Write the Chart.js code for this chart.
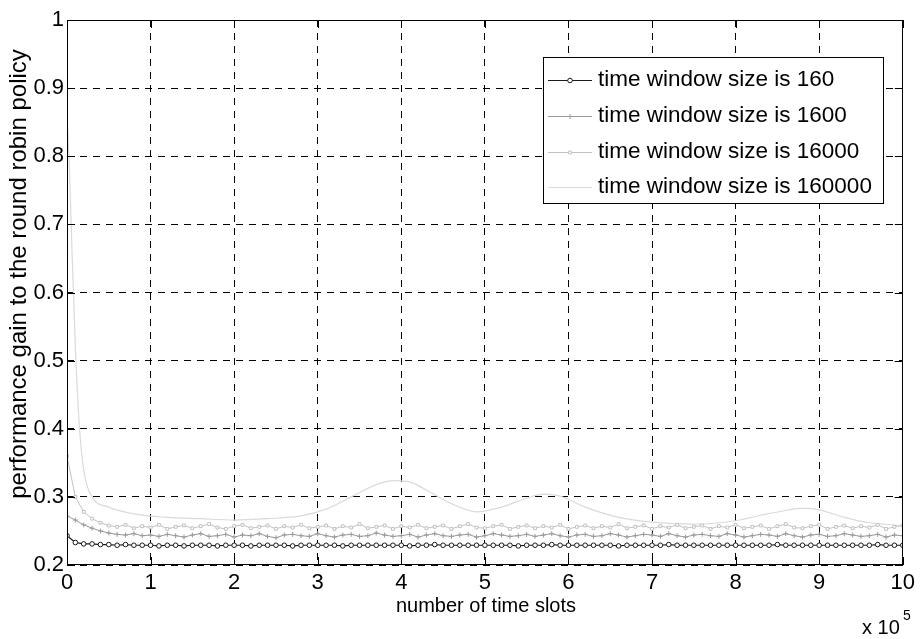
<!DOCTYPE html>
<html>
<head>
<meta charset="utf-8">
<script src="https://cdn.jsdelivr.net/npm/chart.js@4.4.0/dist/chart.umd.min.js"></script>
<style>
  body { margin: 0; background: #fff; }
  canvas { display: block; }
</style>
</head>
<body>
<canvas id="gainChart" width="920" height="639"></canvas>
<script>
// x values are in units of 10^5 time slots
const xTicks = [0, 1, 2, 3, 4, 5, 6, 7, 8, 9, 10];
const yTicks = [0.2, 0.3, 0.4, 0.5, 0.6, 0.7, 0.8, 0.9, 1];

const seriesLabels = [
    'time window size is 160',
    'time window size is 1600',
    'time window size is 16000',
    'time window size is 160000'
];

const xSlots = [
    0, 0.1, 0.2, 0.3, 0.4, 0.5, 0.6, 0.7, 0.8, 0.9,
    1, 1.1, 1.2, 1.3, 1.4, 1.5, 1.6, 1.7, 1.8, 1.9,
    2, 2.1, 2.2, 2.3, 2.4, 2.5, 2.6, 2.7, 2.8, 2.9,
    3, 3.1, 3.2, 3.3, 3.4, 3.5, 3.6, 3.7, 3.8, 3.9,
    4, 4.1, 4.2, 4.3, 4.4, 4.5, 4.6, 4.7, 4.8, 4.9,
    5, 5.1, 5.2, 5.3, 5.4, 5.5, 5.6, 5.7, 5.8, 5.9,
    6, 6.1, 6.2, 6.3, 6.4, 6.5, 6.6, 6.7, 6.8, 6.9,
    7, 7.1, 7.2, 7.3, 7.4, 7.5, 7.6, 7.7, 7.8, 7.9,
    8, 8.1, 8.2, 8.3, 8.4, 8.5, 8.6, 8.7, 8.8, 8.9,
    9, 9.1, 9.2, 9.3, 9.4, 9.5, 9.6, 9.7, 9.8, 9.9,
    10
];

const gain160 = [
    0.243, 0.233, 0.231, 0.231, 0.230, 0.230, 0.229, 0.230, 0.229, 0.229,
    0.229, 0.228, 0.229, 0.229, 0.228, 0.229, 0.229, 0.229, 0.228, 0.229,
    0.229, 0.229, 0.228, 0.229, 0.229, 0.229, 0.229, 0.228, 0.229, 0.229,
    0.229, 0.229, 0.229, 0.228, 0.229, 0.229, 0.229, 0.229, 0.229, 0.229,
    0.229, 0.228, 0.229, 0.229, 0.230, 0.229, 0.229, 0.229, 0.229, 0.229,
    0.229, 0.229, 0.229, 0.229, 0.228, 0.229, 0.229, 0.229, 0.230, 0.229,
    0.229, 0.229, 0.229, 0.229, 0.229, 0.229, 0.228, 0.229, 0.229, 0.229,
    0.229, 0.229, 0.230, 0.229, 0.229, 0.229, 0.229, 0.229, 0.229, 0.229,
    0.229, 0.229, 0.229, 0.229, 0.229, 0.230, 0.229, 0.229, 0.229, 0.229,
    0.229, 0.229, 0.229, 0.229, 0.229, 0.229, 0.229, 0.230, 0.229, 0.229,
    0.229
];

const gain1600 = [
    0.272, 0.266, 0.259, 0.254, 0.250, 0.247, 0.245, 0.244, 0.246, 0.243,
    0.244, 0.242, 0.245, 0.243, 0.241, 0.244, 0.246, 0.242, 0.243, 0.245,
    0.241, 0.244, 0.243, 0.246, 0.242, 0.240, 0.244, 0.245, 0.243, 0.242,
    0.246, 0.243, 0.241, 0.244, 0.245, 0.242, 0.243, 0.247, 0.244, 0.242,
    0.243, 0.245, 0.241, 0.244, 0.246, 0.243, 0.242, 0.244, 0.245, 0.241,
    0.243, 0.246, 0.244, 0.242, 0.243, 0.245, 0.242, 0.244, 0.246, 0.243,
    0.241, 0.244, 0.245, 0.242, 0.243, 0.246, 0.244, 0.241, 0.243, 0.245,
    0.244, 0.242, 0.246, 0.243, 0.241, 0.244, 0.245, 0.243, 0.242, 0.246,
    0.244, 0.241, 0.243, 0.245, 0.244, 0.242, 0.246, 0.243, 0.241, 0.244,
    0.245, 0.242, 0.243, 0.246, 0.244, 0.242, 0.243, 0.245, 0.241, 0.244,
    0.243
];

const gain16000 = [
    0.360, 0.300, 0.278, 0.268, 0.262, 0.258, 0.256, 0.259, 0.254, 0.257,
    0.255, 0.259, 0.253, 0.256, 0.258, 0.254, 0.257, 0.260, 0.255, 0.253,
    0.257, 0.259, 0.254, 0.256, 0.258, 0.253, 0.257, 0.255, 0.259, 0.254,
    0.256, 0.258, 0.253, 0.257, 0.255, 0.260, 0.254, 0.256, 0.258, 0.253,
    0.257, 0.255, 0.259, 0.254, 0.256, 0.258, 0.253, 0.257, 0.260, 0.255,
    0.254, 0.257, 0.259, 0.253, 0.256, 0.258, 0.254, 0.257, 0.255, 0.259,
    0.253, 0.256, 0.258, 0.254, 0.257, 0.255, 0.260, 0.254, 0.256, 0.258,
    0.253, 0.257, 0.255, 0.259, 0.254, 0.256, 0.258, 0.253, 0.257, 0.255,
    0.259, 0.254, 0.256, 0.258, 0.253, 0.257, 0.260, 0.255, 0.254, 0.257,
    0.259, 0.253, 0.256, 0.258, 0.254, 0.257, 0.255, 0.259, 0.253, 0.256,
    0.258
];

const xSlots160000 = [
    0, 0.03, 0.06, 0.1, 0.15, 0.2, 0.3, 0.5, 0.8, 1.2,
    1.6, 2.0, 2.4, 2.8, 3.1, 3.4, 3.7, 3.9, 4.1, 4.3,
    4.6, 4.9, 5.2, 5.5, 5.7, 5.9, 6.2, 6.6, 7.0, 7.5,
    8.0, 8.3, 8.6, 8.8, 9.0, 9.3, 9.6, 10
];
const gain160000 = [
    0.86, 0.78, 0.66, 0.52, 0.40, 0.34, 0.30, 0.285, 0.275, 0.27,
    0.268, 0.266, 0.268, 0.272, 0.282, 0.30, 0.318, 0.324, 0.322, 0.31,
    0.29, 0.278, 0.285, 0.298, 0.304, 0.301, 0.285, 0.27, 0.263, 0.26,
    0.265, 0.273, 0.28, 0.283, 0.281, 0.27, 0.262, 0.258
];

const FONT = "'Liberation Sans', Arial, sans-serif";

function toPoints(xs, ys) {
    return xs.map((x, i) => ({ x: x, y: ys[i] }));
}

// Frame, inner tick marks, legend box and axis titles (MATLAB look)
const matlabFrame = {
    id: 'matlabFrame',
    afterDatasetsDraw(chart) {
        const ctx = chart.ctx;
        const a = chart.chartArea;
        const xs = chart.scales.x;
        const ys = chart.scales.y;
        ctx.save();
        ctx.strokeStyle = '#000';
        ctx.lineWidth = 1;
        ctx.setLineDash([]);
        ctx.beginPath();
        xTicks.forEach(v => {
            const px = Math.round(xs.getPixelForValue(v)) + 0.5;
            ctx.moveTo(px, a.bottom); ctx.lineTo(px, a.bottom - 8);
            ctx.moveTo(px, a.top); ctx.lineTo(px, a.top + 8);
        });
        yTicks.forEach(v => {
            const py = Math.round(ys.getPixelForValue(v)) + 0.5;
            ctx.moveTo(a.left, py); ctx.lineTo(a.left + 8, py);
            ctx.moveTo(a.right, py); ctx.lineTo(a.right - 8, py);
        });
        ctx.stroke();
        ctx.strokeRect(Math.round(a.left) + 0.5, Math.round(a.top) + 0.5,
                       Math.round(a.width) - 1, Math.round(a.height) - 1);

        // legend
        const box = { x: 543.5, y: 57.5, w: 340, h: 146 };
        ctx.fillStyle = '#fff';
        ctx.fillRect(box.x, box.y, box.w, box.h);
        ctx.strokeRect(box.x, box.y, box.w, box.h);
        const rowY = [80, 116, 152, 187];
        ctx.font = '22.5px ' + FONT;
        ctx.textBaseline = 'middle';
        ctx.textAlign = 'left';
        chart.data.datasets.forEach((ds, i) => {
            const y = rowY[i];
            ctx.strokeStyle = ds.borderColor;
            ctx.lineWidth = 1;
            ctx.beginPath();
            ctx.moveTo(548, y + 0.5);
            ctx.lineTo(592, y + 0.5);
            ctx.stroke();
            if (ds.pointRadius > 0) {
                ctx.fillStyle = ds.pointBackgroundColor || '#fff';
                ctx.strokeStyle = ds.pointBorderColor || ds.borderColor;
                Chart.helpers.drawPoint(ctx, {
                    pointStyle: ds.pointStyle,
                    radius: ds.pointRadius,
                    rotation: 0,
                    borderWidth: 1
                }, 570, y + 0.5);
            }
            ctx.fillStyle = '#000';
            ctx.fillText(ds.label, 598, y);
        });
        ctx.restore();
    },
    afterDraw(chart) {
        const ctx = chart.ctx;
        ctx.save();
        ctx.fillStyle = '#000';
        ctx.textBaseline = 'middle';
        ctx.textAlign = 'center';
        ctx.font = '20px ' + FONT;
        ctx.fillText('number of time slots', 486, 606);

        ctx.textAlign = 'left';
        ctx.fillText('x 10', 862, 628);
        ctx.font = '14px ' + FONT;
        ctx.fillText('5', 903, 616);

        ctx.translate(19, 274);
        ctx.rotate(-Math.PI / 2);
        ctx.textAlign = 'center';
        ctx.font = '24px ' + FONT;
        ctx.fillText('performance gain to the round robin policy', 0, 0);
        ctx.restore();
    }
};

const ctx = document.getElementById('gainChart').getContext('2d');

new Chart(ctx, {
    type: 'line',
    data: {
        datasets: [
            {
                label: seriesLabels[0],
                data: toPoints(xSlots, gain160),
                borderColor: '#1a1a1a',
                borderWidth: 1.2,
                pointStyle: 'circle',
                pointRadius: 2.3,
                pointBorderWidth: 1,
                pointBorderColor: '#1a1a1a',
                pointBackgroundColor: '#fff',
                order: 0
            },
            {
                label: seriesLabels[1],
                data: toPoints(xSlots, gain1600),
                borderColor: '#9a9a9a',
                borderWidth: 1,
                pointStyle: 'cross',
                pointRadius: 2.5,
                pointBorderColor: '#9a9a9a',
                pointBackgroundColor: '#9a9a9a',
                order: 1
            },
            {
                label: seriesLabels[2],
                data: toPoints(xSlots, gain16000),
                borderColor: '#c2c2c2',
                borderWidth: 1,
                pointStyle: 'rect',
                pointRadius: 2,
                pointBorderColor: '#c2c2c2',
                pointBackgroundColor: '#fff',
                order: 2
            },
            {
                label: seriesLabels[3],
                data: toPoints(xSlots160000, gain160000),
                borderColor: '#dadada',
                borderWidth: 1.2,
                pointRadius: 0,
                cubicInterpolationMode: 'monotone',
                order: 3
            }
        ]
    },
    options: {
        responsive: false,
        animation: false,
        layout: {
            padding: { top: 20, right: 15, left: 0, bottom: 0 }
        },
        scales: {
            x: {
                type: 'linear',
                min: 0,
                max: 10,
                afterBuildTicks: s => { s.ticks = xTicks.map(v => ({ value: v })); },
                afterFit: s => { s.height = 74; },
                ticks: {
                    color: '#000',
                    padding: 5,
                    font: { family: FONT, size: 22 },
                    maxRotation: 0,
                    callback: v => String(v)
                },
                grid: { color: '#000', lineWidth: 1, drawTicks: false },
                border: { display: false, dash: [7, 6] }
            },
            y: {
                min: 0.2,
                max: 1,
                afterBuildTicks: s => { s.ticks = yTicks.map(v => ({ value: v })); },
                afterFit: s => { s.width = 67; },
                ticks: {
                    color: '#000',
                    padding: 3,
                    font: { family: FONT, size: 22 },
                    callback: v => String(Number(v.toFixed(1)))
                },
                grid: { color: '#000', lineWidth: 1, drawTicks: false },
                border: { display: false, dash: [7, 6] }
            }
        },
        plugins: {
            legend: { display: false },
            tooltip: { enabled: false }
        }
    },
    plugins: [matlabFrame]
});
</script>
</body>
</html>
